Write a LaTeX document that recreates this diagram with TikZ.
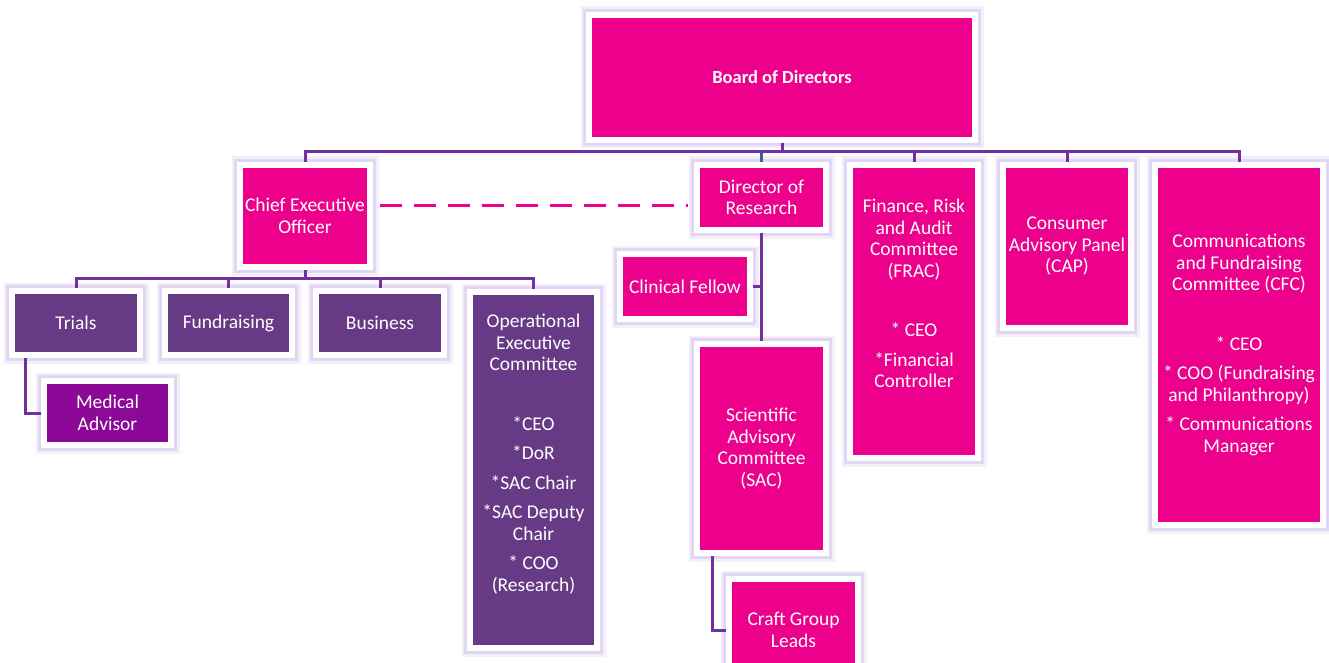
\documentclass[tikz,border=0pt]{standalone}
\usepackage{fontspec}
\setmainfont{Carlito}
\usepackage{xcolor}
\usepackage{tikz}
\usetikzlibrary{positioning}

\definecolor{boardpink}{RGB}{236,0,140}
\definecolor{deptpurple}{RGB}{102,58,132}
\definecolor{advisorpurple}{RGB}{140,8,150}
\definecolor{linkpurple}{RGB}{112,48,160}
\definecolor{haze}{RGB}{214,198,236}
\definecolor{steelblue}{RGB}{62,96,150}

\begin{document}
\begin{tikzpicture}[x=1pt, y=-1pt,
                boxnode/.style={rectangle, draw=white, line width=6pt, inner sep=0pt, text=white, align=center,
                    font=\fontsize{19.5}{21.5}\selectfont,
                    preaction={draw=haze!30, line width=17pt}, preaction={draw=haze!70, line width=12pt}},
                pinknode/.style={boxnode, fill=boardpink},
                purplenode/.style={boxnode, fill=deptpurple},
                violetnode/.style={boxnode, fill=advisorpurple},
                link/.style={draw=linkpurple, line width=3pt},
                dashlink/.style={draw=boardpink, line width=3pt, dash pattern=on 22pt off 12pt}
                ]
                \useasboundingbox (0,0) rectangle (1329,663);
                \clip (0,0) rectangle (1329,663);
                \fill[white] (0,0) rectangle (1329,663);
                \coordinate (topBus) at (0,152);
                \coordinate (ceoBus) at (0,278);
                % top level
                \node[pinknode, minimum width=386pt, minimum height=125pt, font=\bfseries\fontsize{18.5}{22}\selectfont] (board) at (782,77.5) {Board of Directors};
                \node[pinknode, minimum width=130pt, minimum height=102pt] (ceo) at (305,216) {Chief Executive\\Officer};
                \node[pinknode, minimum width=129pt, minimum height=65pt] (director) at (761.5,197.5) {Director of\\Research};
                \node[pinknode, minimum width=128pt, minimum height=293pt, text depth=36pt] (frac) at (914,311.5) {Finance, Risk\\and Audit\\Committee\\(FRAC)\\[38pt]* CEO\\[8pt]*Financial\\Controller};
                \node[pinknode, minimum width=128pt, minimum height=163pt] (cap) at (1067,246.5) {Consumer\\Advisory Panel\\(CAP)};
                \node[pinknode, minimum width=168pt, minimum height=360pt] (cfc) at (1239,345) {Communications\\and Fundraising\\Committee (CFC)\\[38pt]* CEO\\[8pt]* COO (Fundraising\\and Philanthropy)\\[8pt]* Communications\\Manager};
                % under the CEO
                \node[purplenode, minimum width=128pt, minimum height=64pt] (trials) at (76,323) {Trials};
                \node[purplenode, minimum width=127pt, minimum height=64pt] (fundraising) [right=19pt of trials] {Fundraising};
                \node[purplenode, minimum width=128pt, minimum height=64pt] (business) [right=18pt of fundraising] {Business};
                \node[purplenode, minimum width=127pt, minimum height=356pt, text depth=35pt] (opCommittee) at (533.5,470) {Operational\\Executive\\Committee\\[38pt]*CEO\\[8pt]*DoR\\[8pt]*SAC Chair\\[8pt]*SAC Deputy\\Chair\\[8pt]* COO\\(Research)};
                \node[violetnode, minimum width=127pt, minimum height=64pt] (medicalAdvisor) at (107.5,413) {Medical\\Advisor};
                % under the director of research
                \node[pinknode, minimum width=130pt, minimum height=65pt] (clinicalFellow) at (685,286.5) {Clinical Fellow};
                \node[pinknode, minimum width=129pt, minimum height=209pt] (sac) at (761.5,448.5) {Scientific\\Advisory\\Committee\\(SAC)};
                \node[pinknode, minimum width=129pt, minimum height=102pt] (craftLeads) at (793.5,630) {Craft Group\\Leads};
                % connectors
                \draw[link] (board.south) -- (board.south |- topBus) -| (ceo.north);
                \draw[link] (board.south) -- (board.south |- topBus) -| (frac.north);
                \draw[link] (board.south) -- (board.south |- topBus) -| (cap.north);
                \draw[link] (board.south) -- (board.south |- topBus) -| (cfc.north);
                \draw[link, draw=steelblue] ([yshift=-1.5pt]director.north |- topBus) -- (director.north);
                \draw[link] (ceo.south) -- (ceo.south |- ceoBus) -| (trials.north);
                \draw[link] (ceo.south) -- (ceo.south |- ceoBus) -| (fundraising.north);
                \draw[link] (ceo.south) -- (ceo.south |- ceoBus) -| (business.north);
                \draw[link] (ceo.south) -- (ceo.south |- ceoBus) -| (opCommittee.north);
                \draw[link] ([xshift=16pt]trials.south west) |- (medicalAdvisor.west);
                \draw[link] (director.south) -- (sac.north);
                \draw[link] (clinicalFellow.east) -- (clinicalFellow.east -| director.south);
                \draw[link] ([xshift=18pt]sac.south west) |- (craftLeads.west);
                \draw[dashlink, shorten <=7pt, shorten >=6pt] ([yshift=11pt]ceo.east) -- ([yshift=11pt]ceo.east -| director.west);
            \end{tikzpicture}
\end{document}
